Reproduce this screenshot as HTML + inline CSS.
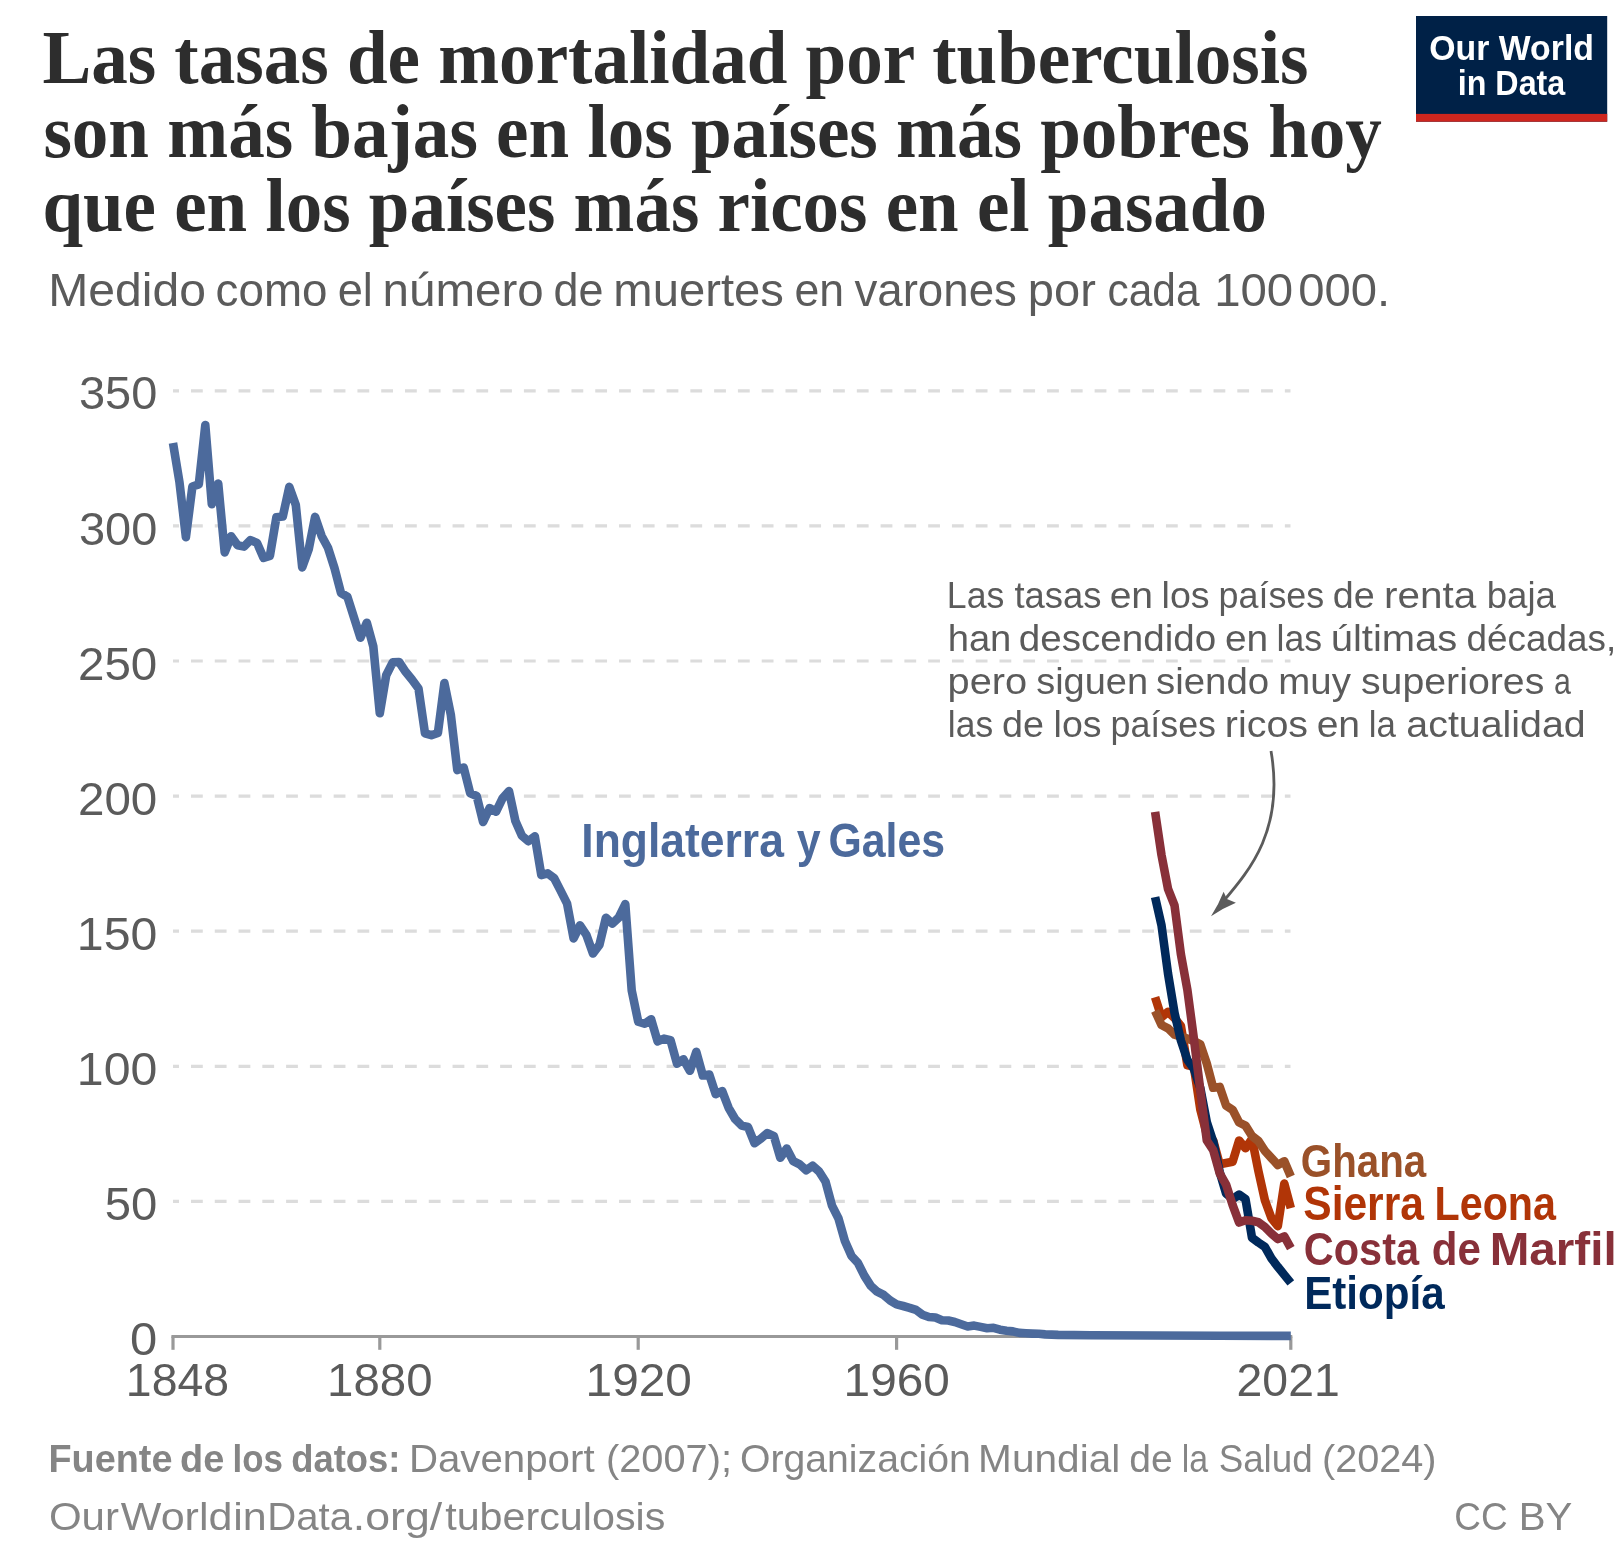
<!DOCTYPE html>
<html lang="es"><head><meta charset="utf-8"><title>Tuberculosis</title>
<style>
html,body{margin:0;padding:0;background:#fff;}
body{width:1620px;height:1553px;overflow:hidden;font-family:"Liberation Sans",sans-serif;}
svg{display:block;will-change:transform;}
svg text{font-family:"Liberation Sans",sans-serif;}
svg text.ttl{font-family:"Liberation Serif",serif;font-weight:700;fill:#2d2d2d;font-size:76.3px;}
.tick{fill:#5b5b5b;font-size:46px;}
.sub{fill:#5b5b5b;}
.ann{fill:#5b5b5b;}
.ft{fill:#858585;}
.lbl{font-weight:700;}
</style></head><body>
<svg width="1620" height="1553" viewBox="0 0 1620 1553">
<rect width="1620" height="1553" fill="#fff"/>
<text class="ttl" x="42.4" y="83" textLength="1266" lengthAdjust="spacingAndGlyphs">Las tasas de mortalidad por tuberculosis</text>
<text class="ttl" x="43.4" y="157.3" textLength="1338.5" lengthAdjust="spacingAndGlyphs">son más bajas en los países más pobres hoy</text>
<text class="ttl" x="42.4" y="231.3" textLength="1224.5" lengthAdjust="spacingAndGlyphs">que en los países más ricos en el pasado</text>
<text class="sub" x="48.23" y="305.6" font-size="45.5" textLength="157.85" lengthAdjust="spacingAndGlyphs">Medido</text>
<text class="sub" x="215.59" y="305.6" font-size="45.5" textLength="111.92" lengthAdjust="spacingAndGlyphs">como</text>
<text class="sub" x="337.71" y="305.6" font-size="45.5" textLength="35.19" lengthAdjust="spacingAndGlyphs">el</text>
<text class="sub" x="382.57" y="305.6" font-size="45.5" textLength="161.10" lengthAdjust="spacingAndGlyphs">número</text>
<text class="sub" x="553.61" y="305.6" font-size="45.5" textLength="49.98" lengthAdjust="spacingAndGlyphs">de</text>
<text class="sub" x="613.39" y="305.6" font-size="45.5" textLength="170.49" lengthAdjust="spacingAndGlyphs">muertes</text>
<text class="sub" x="794.52" y="305.6" font-size="45.5" textLength="49.64" lengthAdjust="spacingAndGlyphs">en</text>
<text class="sub" x="854.40" y="305.6" font-size="45.5" textLength="162.55" lengthAdjust="spacingAndGlyphs">varones</text>
<text class="sub" x="1027.83" y="305.6" font-size="45.5" textLength="68.03" lengthAdjust="spacingAndGlyphs">por</text>
<text class="sub" x="1107.57" y="305.6" font-size="45.5" textLength="91.98" lengthAdjust="spacingAndGlyphs">cada</text>
<text class="sub" x="1214.17" y="305.6" font-size="45.5" textLength="79.08" lengthAdjust="spacingAndGlyphs">100</text>
<text class="sub" x="1298.26" y="305.6" font-size="45.5" textLength="91.92" lengthAdjust="spacingAndGlyphs">000.</text>
<g>
<rect x="1416" y="16" width="191.2" height="105.7" fill="#002147"/>
<rect x="1416" y="113.9" width="191.2" height="7.8" fill="#ce261e"/>
<text x="1511.6" y="59.7" text-anchor="middle" fill="#fff" font-weight="700" font-size="35" textLength="164.7" lengthAdjust="spacingAndGlyphs">Our World</text>
<text x="1511.5" y="95" text-anchor="middle" fill="#fff" font-weight="700" font-size="35" textLength="107.5" lengthAdjust="spacingAndGlyphs">in Data</text>
</g>
<line x1="167.2" y1="390.8" x2="1290.7" y2="390.8" stroke="#dcdcdc" stroke-width="3.2" stroke-dasharray="11.8 11.98" clip-path="url(#gc)"/>
<line x1="167.2" y1="525.9" x2="1290.7" y2="525.9" stroke="#dcdcdc" stroke-width="3.2" stroke-dasharray="11.8 11.98" clip-path="url(#gc)"/>
<line x1="167.2" y1="661.0" x2="1290.7" y2="661.0" stroke="#dcdcdc" stroke-width="3.2" stroke-dasharray="11.8 11.98" clip-path="url(#gc)"/>
<line x1="167.2" y1="796.1" x2="1290.7" y2="796.1" stroke="#dcdcdc" stroke-width="3.2" stroke-dasharray="11.8 11.98" clip-path="url(#gc)"/>
<line x1="167.2" y1="931.2" x2="1290.7" y2="931.2" stroke="#dcdcdc" stroke-width="3.2" stroke-dasharray="11.8 11.98" clip-path="url(#gc)"/>
<line x1="167.2" y1="1066.3" x2="1290.7" y2="1066.3" stroke="#dcdcdc" stroke-width="3.2" stroke-dasharray="11.8 11.98" clip-path="url(#gc)"/>
<line x1="167.2" y1="1201.4" x2="1290.7" y2="1201.4" stroke="#dcdcdc" stroke-width="3.2" stroke-dasharray="11.8 11.98" clip-path="url(#gc)"/>
<clipPath id="gc"><rect x="173" y="0" width="1117.7" height="1553"/></clipPath>
<text class="tick" x="78.98" y="409.4" textLength="78.34" lengthAdjust="spacingAndGlyphs">350</text>
<text class="tick" x="78.98" y="544.5" textLength="78.34" lengthAdjust="spacingAndGlyphs">300</text>
<text class="tick" x="77.93" y="679.6" textLength="79.41" lengthAdjust="spacingAndGlyphs">250</text>
<text class="tick" x="77.93" y="814.7" textLength="79.41" lengthAdjust="spacingAndGlyphs">200</text>
<text class="tick" x="76.85" y="949.8" textLength="80.51" lengthAdjust="spacingAndGlyphs">150</text>
<text class="tick" x="76.85" y="1084.9" textLength="80.51" lengthAdjust="spacingAndGlyphs">100</text>
<text class="tick" x="104.77" y="1220.0" textLength="52.55" lengthAdjust="spacingAndGlyphs">50</text>
<text class="tick" x="130.13" y="1355.1" textLength="27.25" lengthAdjust="spacingAndGlyphs">0</text>
<line x1="171.4" y1="1336.5" x2="1292.3" y2="1336.5" stroke="#999" stroke-width="3.2"/>
<line x1="173.0" y1="1336.5" x2="173.0" y2="1349.8" stroke="#999" stroke-width="3.2"/>
<line x1="379.8" y1="1336.5" x2="379.8" y2="1349.8" stroke="#999" stroke-width="3.2"/>
<line x1="638.2" y1="1336.5" x2="638.2" y2="1349.8" stroke="#999" stroke-width="3.2"/>
<line x1="896.6" y1="1336.5" x2="896.6" y2="1349.8" stroke="#999" stroke-width="3.2"/>
<line x1="1290.8" y1="1336.5" x2="1290.8" y2="1349.8" stroke="#999" stroke-width="3.2"/>
<text class="tick" x="125.88" y="1396.2" textLength="103.12" lengthAdjust="spacingAndGlyphs">1848</text>
<text class="tick" x="327.11" y="1396.2" textLength="105.42" lengthAdjust="spacingAndGlyphs">1880</text>
<text class="tick" x="585.58" y="1396.2" textLength="106.26" lengthAdjust="spacingAndGlyphs">1920</text>
<text class="tick" x="843.58" y="1396.2" textLength="106.26" lengthAdjust="spacingAndGlyphs">1960</text>
<text class="tick" x="1236.58" y="1396.2" textLength="103.11" lengthAdjust="spacingAndGlyphs">2021</text>
<g fill="none" stroke-width="8.6" stroke-linejoin="round" stroke-linecap="butt">
<path d="M173.0,443.0 L179.5,482.4 L185.9,537.2 L192.4,486.5 L198.8,484.4 L205.3,425.1 L211.8,504.1 L218.2,483.5 L224.7,552.4 L231.1,536.3 L237.6,545.3 L244.1,546.6 L250.5,540.1 L257.0,542.9 L263.5,557.8 L269.9,555.8 L276.4,517.2 L282.8,516.5 L289.3,486.9 L295.8,505.0 L302.2,567.4 L308.7,549.4 L315.1,516.9 L321.6,535.9 L328.1,548.1 L334.5,568.1 L341.0,593.0 L347.4,596.7 L353.9,617.3 L360.4,637.7 L366.8,622.7 L373.3,646.5 L379.8,713.3 L386.2,675.3 L392.7,662.4 L399.1,662.0 L405.6,671.8 L412.1,679.8 L418.5,688.5 L425.0,733.3 L431.4,735.2 L437.9,733.0 L444.4,683.1 L450.8,714.6 L457.3,770.1 L463.7,767.5 L470.2,793.3 L476.7,795.9 L483.1,822.0 L489.6,808.1 L496.1,811.7 L502.5,798.4 L509.0,791.1 L515.4,821.0 L521.9,835.8 L528.4,841.2 L534.8,836.3 L541.3,875.1 L547.7,873.4 L554.2,878.3 L560.7,890.9 L567.1,903.7 L573.6,938.4 L580.0,925.3 L586.5,935.2 L593.0,953.5 L599.4,944.9 L605.9,917.8 L612.3,923.6 L618.8,917.5 L625.3,904.1 L631.7,990.3 L638.2,1021.6 L644.7,1023.7 L651.1,1019.2 L657.6,1041.4 L664.0,1038.6 L670.5,1040.1 L677.0,1063.7 L683.4,1059.3 L689.9,1070.8 L696.3,1051.8 L702.8,1075.5 L709.3,1074.6 L715.7,1094.2 L722.2,1091.1 L728.6,1107.8 L735.1,1119.0 L741.6,1125.6 L748.0,1127.0 L754.5,1143.2 L761.0,1138.6 L767.4,1133.1 L773.9,1136.1 L780.3,1157.7 L786.8,1148.6 L793.3,1161.2 L799.7,1164.4 L806.2,1170.2 L812.6,1165.7 L819.1,1171.5 L825.6,1181.8 L832.0,1205.6 L838.5,1218.5 L844.9,1241.0 L851.4,1255.8 L857.9,1262.9 L864.3,1275.6 L870.8,1285.9 L877.2,1291.7 L883.7,1294.9 L890.2,1300.5 L896.6,1304.4 L903.1,1306.0 L909.6,1307.8 L916.0,1309.9 L922.5,1314.7 L928.9,1317.0 L935.4,1317.5 L941.9,1320.2 L948.3,1320.5 L954.8,1322.0 L961.2,1324.3 L967.7,1326.5 L974.2,1325.6 L980.6,1326.9 L987.1,1328.2 L993.5,1327.8 L1000.0,1329.7 L1006.5,1330.8 L1012.9,1331.4 L1019.4,1332.9 L1025.9,1333.3 L1032.3,1333.6 L1038.8,1333.8 L1045.2,1334.4 L1051.7,1334.6 L1058.2,1334.9 L1090.5,1335.2 L1155.1,1335.5 L1219.7,1335.8 L1290.8,1335.9" stroke="#4c6a9c"/>
<path d="M1155.1,997.3 L1161.5,1017.3 L1168.0,1011.9 L1174.5,1018.0 L1180.9,1026.0 L1187.4,1065.3 L1193.8,1066.4 L1200.3,1109.4 L1206.8,1134.4 L1213.2,1140.5 L1219.7,1164.3 L1226.1,1163.0 L1232.6,1161.8 L1239.1,1140.5 L1245.5,1148.3 L1252.0,1138.9 L1258.4,1171.0 L1264.9,1200.3 L1271.4,1218.0 L1277.8,1226.2 L1284.3,1183.6 L1290.8,1208.2" stroke="#b13507"/>
<path d="M1155.1,1010.9 L1161.5,1025.0 L1168.0,1028.3 L1174.5,1034.7 L1180.9,1036.5 L1187.4,1038.6 L1193.8,1041.0 L1200.3,1044.4 L1206.8,1063.7 L1213.2,1087.8 L1219.7,1086.9 L1226.1,1105.6 L1232.6,1109.8 L1239.1,1122.5 L1245.5,1125.6 L1252.0,1136.0 L1258.4,1141.0 L1264.9,1150.8 L1271.4,1158.0 L1277.8,1165.0 L1284.3,1161.2 L1290.8,1176.5" stroke="#9a5129"/>
<path d="M1155.1,897.1 L1161.5,925.2 L1168.0,973.5 L1174.5,1012.8 L1180.9,1040.5 L1187.4,1060.0 L1193.8,1068.6 L1200.3,1088.0 L1206.8,1122.0 L1213.2,1141.5 L1219.7,1172.0 L1226.1,1193.5 L1232.6,1199.1 L1239.1,1194.6 L1245.5,1199.1 L1252.0,1237.8 L1258.4,1242.5 L1264.9,1246.8 L1271.4,1258.4 L1277.8,1266.8 L1284.3,1274.9 L1290.8,1282.9" stroke="#00295b"/>
<path d="M1155.1,811.9 L1161.5,855.0 L1168.0,888.9 L1174.5,905.3 L1180.9,954.2 L1187.4,990.0 L1193.8,1038.0 L1200.3,1090.0 L1206.8,1140.5 L1213.2,1150.2 L1219.7,1173.3 L1226.1,1184.6 L1232.6,1205.0 L1239.1,1222.5 L1245.5,1220.3 L1252.0,1220.8 L1258.4,1222.2 L1264.9,1226.9 L1271.4,1233.5 L1277.8,1239.1 L1284.3,1236.4 L1290.8,1248.1" stroke="#883039"/>
</g>
<text class="lbl" x="581.35" y="856.6" fill="#4c6a9c" font-size="48.5" textLength="202.51" lengthAdjust="spacingAndGlyphs">Inglaterra</text>
<text class="lbl" x="796.70" y="856.6" fill="#4c6a9c" font-size="48.5" textLength="23.88" lengthAdjust="spacingAndGlyphs">y</text>
<text class="lbl" x="828.42" y="856.6" fill="#4c6a9c" font-size="48.5" textLength="116.62" lengthAdjust="spacingAndGlyphs">Gales</text>
<text class="lbl" x="1300.81" y="1177.0" fill="#9a5129" font-size="45.5" textLength="125.37" lengthAdjust="spacingAndGlyphs">Ghana</text>
<text class="lbl" x="1303.30" y="1219.6" fill="#b13507" font-size="47.5" textLength="120.57" lengthAdjust="spacingAndGlyphs">Sierra</text>
<text class="lbl" x="1434.49" y="1219.6" fill="#b13507" font-size="47.5" textLength="121.50" lengthAdjust="spacingAndGlyphs">Leona</text>
<text class="lbl" x="1303.81" y="1264.5" fill="#883039" font-size="46.8" textLength="115.32" lengthAdjust="spacingAndGlyphs">Costa</text>
<text class="lbl" x="1431.70" y="1264.5" fill="#883039" font-size="46.8" textLength="49.12" lengthAdjust="spacingAndGlyphs">de</text>
<text class="lbl" x="1489.65" y="1264.5" fill="#883039" font-size="46.8" textLength="127.01" lengthAdjust="spacingAndGlyphs">Marfil</text>
<text class="lbl" x="1304.20" y="1309.3" fill="#00295b" font-size="46.8" textLength="140.42" lengthAdjust="spacingAndGlyphs">Etiopía</text>
<text class="ann" x="946.83" y="607.9" font-size="37.3" textLength="57.49" lengthAdjust="spacingAndGlyphs">Las</text>
<text class="ann" x="1014.50" y="607.9" font-size="37.3" textLength="87.03" lengthAdjust="spacingAndGlyphs">tasas</text>
<text class="ann" x="1109.65" y="607.9" font-size="37.3" textLength="43.47" lengthAdjust="spacingAndGlyphs">en</text>
<text class="ann" x="1161.58" y="607.9" font-size="37.3" textLength="48.07" lengthAdjust="spacingAndGlyphs">los</text>
<text class="ann" x="1218.58" y="607.9" font-size="37.3" textLength="105.65" lengthAdjust="spacingAndGlyphs">países</text>
<text class="ann" x="1332.89" y="607.9" font-size="37.3" textLength="41.96" lengthAdjust="spacingAndGlyphs">de</text>
<text class="ann" x="1384.03" y="607.9" font-size="37.3" textLength="92.19" lengthAdjust="spacingAndGlyphs">renta</text>
<text class="ann" x="1486.74" y="607.9" font-size="37.3" textLength="69.21" lengthAdjust="spacingAndGlyphs">baja</text>
<text class="ann" x="947.65" y="651.0" font-size="37.3" textLength="63.73" lengthAdjust="spacingAndGlyphs">han</text>
<text class="ann" x="1018.87" y="651.0" font-size="37.3" textLength="197.30" lengthAdjust="spacingAndGlyphs">descendido</text>
<text class="ann" x="1224.96" y="651.0" font-size="37.3" textLength="43.26" lengthAdjust="spacingAndGlyphs">en</text>
<text class="ann" x="1276.49" y="651.0" font-size="37.3" textLength="45.53" lengthAdjust="spacingAndGlyphs">las</text>
<text class="ann" x="1330.76" y="651.0" font-size="37.3" textLength="126.54" lengthAdjust="spacingAndGlyphs">últimas</text>
<text class="ann" x="1466.51" y="651.0" font-size="37.3" textLength="149.62" lengthAdjust="spacingAndGlyphs">décadas,</text>
<text class="ann" x="947.57" y="693.9" font-size="37.3" textLength="79.63" lengthAdjust="spacingAndGlyphs">pero</text>
<text class="ann" x="1036.18" y="693.9" font-size="37.3" textLength="111.89" lengthAdjust="spacingAndGlyphs">siguen</text>
<text class="ann" x="1156.07" y="693.9" font-size="37.3" textLength="113.09" lengthAdjust="spacingAndGlyphs">siendo</text>
<text class="ann" x="1278.34" y="693.9" font-size="37.3" textLength="72.50" lengthAdjust="spacingAndGlyphs">muy</text>
<text class="ann" x="1360.95" y="693.9" font-size="37.3" textLength="183.34" lengthAdjust="spacingAndGlyphs">superiores</text>
<text class="ann" x="1553.88" y="693.9" font-size="37.3" textLength="16.91" lengthAdjust="spacingAndGlyphs">a</text>
<text class="ann" x="947.80" y="737.0" font-size="37.3" textLength="45.32" lengthAdjust="spacingAndGlyphs">las</text>
<text class="ann" x="1002.09" y="737.0" font-size="37.3" textLength="41.96" lengthAdjust="spacingAndGlyphs">de</text>
<text class="ann" x="1053.59" y="737.0" font-size="37.3" textLength="47.96" lengthAdjust="spacingAndGlyphs">los</text>
<text class="ann" x="1110.48" y="737.0" font-size="37.3" textLength="105.54" lengthAdjust="spacingAndGlyphs">países</text>
<text class="ann" x="1224.89" y="737.0" font-size="37.3" textLength="83.20" lengthAdjust="spacingAndGlyphs">ricos</text>
<text class="ann" x="1316.65" y="737.0" font-size="37.3" textLength="43.47" lengthAdjust="spacingAndGlyphs">en</text>
<text class="ann" x="1368.83" y="737.0" font-size="37.3" textLength="27.13" lengthAdjust="spacingAndGlyphs">la</text>
<text class="ann" x="1406.35" y="737.0" font-size="37.3" textLength="179.29" lengthAdjust="spacingAndGlyphs">actualidad</text>
<path d="M1271.0,751.0 C1284.8,830.8 1249.0,871.0 1221.3,903.8" fill="none" stroke="#5b5b5b" stroke-width="2.8"/>
<path d="M1211,916.2 Q1218.6,904.6 1223.6,891.7 L1226.9,899 L1235.9,902.7 Q1222.6,908.2 1211,916.2 Z" fill="#5b5b5b"/>
<text class="ft" x="48.52" y="1472.3" font-size="38.2" font-weight="700" textLength="123.91" lengthAdjust="spacingAndGlyphs">Fuente</text>
<text class="ft" x="180.11" y="1472.3" font-size="38.2" font-weight="700" textLength="44.22" lengthAdjust="spacingAndGlyphs">de</text>
<text class="ft" x="232.57" y="1472.3" font-size="38.2" font-weight="700" textLength="50.46" lengthAdjust="spacingAndGlyphs">los</text>
<text class="ft" x="291.25" y="1472.3" font-size="38.2" font-weight="700" textLength="109.24" lengthAdjust="spacingAndGlyphs">datos:</text>
<text class="ft" x="408.94" y="1472.3" font-size="38.2" textLength="185.65" lengthAdjust="spacingAndGlyphs">Davenport</text>
<text class="ft" x="606.02" y="1472.3" font-size="38.2" textLength="126.00" lengthAdjust="spacingAndGlyphs">(2007);</text>
<text class="ft" x="739.97" y="1472.3" font-size="38.2" textLength="230.82" lengthAdjust="spacingAndGlyphs">Organización</text>
<text class="ft" x="978.11" y="1472.3" font-size="38.2" textLength="142.13" lengthAdjust="spacingAndGlyphs">Mundial</text>
<text class="ft" x="1129.28" y="1472.3" font-size="38.2" textLength="43.49" lengthAdjust="spacingAndGlyphs">de</text>
<text class="ft" x="1181.72" y="1472.3" font-size="38.2" textLength="26.40" lengthAdjust="spacingAndGlyphs">la</text>
<text class="ft" x="1218.64" y="1472.3" font-size="38.2" textLength="94.02" lengthAdjust="spacingAndGlyphs">Salud</text>
<text class="ft" x="1322.02" y="1472.3" font-size="38.2" textLength="114.56" lengthAdjust="spacingAndGlyphs">(2024)</text>
<text class="ft" x="48.90" y="1530.2" font-size="38.2" textLength="70.09" lengthAdjust="spacingAndGlyphs">Our</text>
<text class="ft" x="120.80" y="1530.2" font-size="38.2" textLength="111.62" lengthAdjust="spacingAndGlyphs">World</text>
<text class="ft" x="233.15" y="1530.2" font-size="38.2" textLength="33.47" lengthAdjust="spacingAndGlyphs">in</text>
<text class="ft" x="267.24" y="1530.2" font-size="38.2" textLength="84.85" lengthAdjust="spacingAndGlyphs">Data</text>
<text class="ft" x="352.89" y="1530.2" font-size="38.2" textLength="89.35" lengthAdjust="spacingAndGlyphs">.org/</text>
<text class="ft" x="445.20" y="1530.2" font-size="38.2" textLength="220.18" lengthAdjust="spacingAndGlyphs">tuberculosis</text>
<text class="ft" x="1454.23" y="1530.2" font-size="38.2" textLength="53.33" lengthAdjust="spacingAndGlyphs">CC</text>
<text class="ft" x="1518.74" y="1530.2" font-size="38.2" textLength="53.66" lengthAdjust="spacingAndGlyphs">BY</text>
</svg>
</body></html>
